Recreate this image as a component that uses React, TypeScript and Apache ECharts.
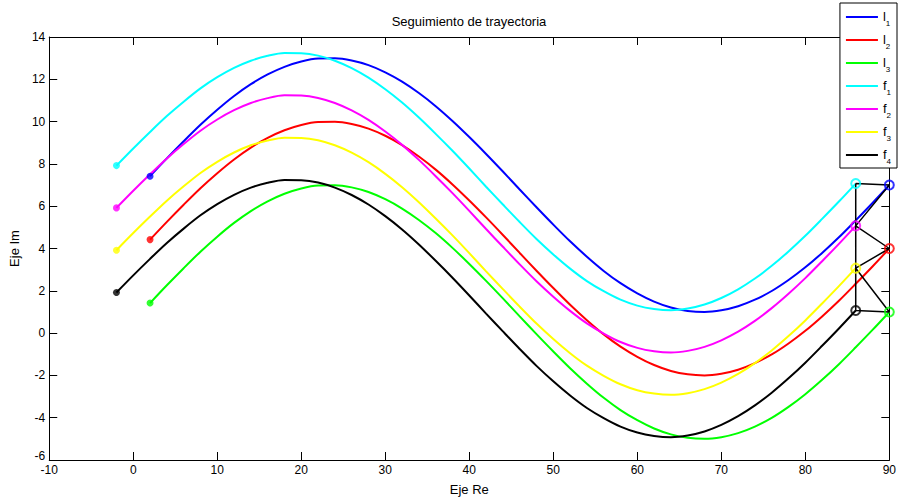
import React, { useEffect, useRef } from "react";
import * as echarts from "echarts";

// x positions of the sampled points
const xLeaders = [2, 4, 6, 8, 10, 12, 14, 16, 18, 20, 22, 24, 26, 28, 30, 32, 34, 36, 38, 40, 42, 44, 46, 48, 50, 52, 54, 56, 58, 60, 62, 64, 66, 68, 70, 72, 74, 76, 78, 80, 82, 84, 86, 88, 90];
const xFollowers = [-2, 0, 2, 4, 6, 8, 10, 12, 14, 16, 18, 20, 22, 24, 26, 28, 30, 32, 34, 36, 38, 40, 42, 44, 46, 48, 50, 52, 54, 56, 58, 60, 62, 64, 66, 68, 70, 72, 74, 76, 78, 80, 82, 84, 86];

// leaders
const l1 = [7.42, 8.26, 9.07, 9.85, 10.56, 11.21, 11.77, 12.23, 12.59, 12.84, 12.98, 12.99, 12.89, 12.67, 12.33, 11.89, 11.35, 10.73, 10.03, 9.27, 8.47, 7.64, 6.79, 5.95, 5.13, 4.34, 3.61, 2.94, 2.36, 1.88, 1.49, 1.21, 1.05, 1.0, 1.08, 1.27, 1.58, 1.99, 2.51, 3.11, 3.79, 4.53, 5.33, 6.15, 7.0];
const l2 = [4.42, 5.26, 6.07, 6.85, 7.56, 8.21, 8.77, 9.23, 9.59, 9.84, 9.98, 9.99, 9.89, 9.67, 9.33, 8.89, 8.35, 7.73, 7.03, 6.27, 5.47, 4.64, 3.79, 2.95, 2.13, 1.34, 0.61, -0.06, -0.64, -1.12, -1.51, -1.79, -1.95, -2.0, -1.92, -1.73, -1.42, -1.01, -0.49, 0.11, 0.79, 1.53, 2.33, 3.15, 4.0];
const l3 = [1.42, 2.26, 3.07, 3.85, 4.56, 5.21, 5.77, 6.23, 6.59, 6.84, 6.98, 6.99, 6.89, 6.67, 6.33, 5.89, 5.35, 4.73, 4.03, 3.27, 2.47, 1.64, 0.79, -0.05, -0.87, -1.66, -2.39, -3.06, -3.64, -4.12, -4.51, -4.79, -4.95, -5.0, -4.92, -4.73, -4.42, -4.01, -3.49, -2.89, -2.21, -1.47, -0.67, 0.15, 1.0];

// followers
const f1 = [7.92, 8.73, 9.51, 10.26, 10.94, 11.57, 12.1, 12.54, 12.88, 13.11, 13.24, 13.23, 13.12, 12.88, 12.53, 12.08, 11.53, 10.9, 10.19, 9.42, 8.62, 7.78, 6.92, 6.08, 5.25, 4.45, 3.72, 3.05, 2.46, 1.98, 1.58, 1.3, 1.14, 1.08, 1.16, 1.35, 1.66, 2.07, 2.58, 3.18, 3.86, 4.6, 5.4, 6.22, 7.07];
const f2 = [5.92, 6.73, 7.51, 8.26, 8.94, 9.57, 10.1, 10.54, 10.88, 11.11, 11.24, 11.23, 11.12, 10.88, 10.53, 10.08, 9.53, 8.9, 8.19, 7.42, 6.62, 5.78, 4.92, 4.08, 3.25, 2.45, 1.72, 1.05, 0.46, -0.02, -0.42, -0.7, -0.86, -0.92, -0.84, -0.65, -0.34, 0.07, 0.58, 1.18, 1.86, 2.6, 3.4, 4.22, 5.07];
const f3 = [3.92, 4.73, 5.51, 6.26, 6.94, 7.57, 8.1, 8.54, 8.88, 9.11, 9.24, 9.23, 9.12, 8.88, 8.53, 8.08, 7.53, 6.9, 6.19, 5.42, 4.62, 3.78, 2.92, 2.08, 1.25, 0.45, -0.28, -0.95, -1.54, -2.02, -2.42, -2.7, -2.86, -2.92, -2.84, -2.65, -2.34, -1.93, -1.42, -0.82, -0.14, 0.6, 1.4, 2.22, 3.07];
const f4 = [1.92, 2.73, 3.51, 4.26, 4.94, 5.57, 6.1, 6.54, 6.88, 7.11, 7.24, 7.23, 7.12, 6.88, 6.53, 6.08, 5.53, 4.9, 4.19, 3.42, 2.62, 1.78, 0.92, 0.08, -0.75, -1.55, -2.28, -2.95, -3.54, -4.02, -4.42, -4.7, -4.86, -4.92, -4.84, -4.65, -4.34, -3.93, -3.42, -2.82, -2.14, -1.4, -0.6, 0.22, 1.07];

const seriesNames = ["l1", "l2", "l3", "f1", "f2", "f3", "f4"];
const seriesColors = ["#0000ff", "#ff0000", "#00ff00", "#00ffff", "#ff00ff", "#ffff00", "#000000"];
const seriesValues = [l1, l2, l3, f1, f2, f3, f4];
const seriesX = [xLeaders, xLeaders, xLeaders, xFollowers, xFollowers, xFollowers, xFollowers];

// formation link order (indices into series): f1 -> l1 -> f2 -> l2 -> f3 -> l3 -> f4 -> f1
const formationOrder = [3, 0, 4, 1, 5, 2, 6, 3];

const xTicks = { min: -10, max: 90, interval: 10 };
const yTicks = { min: -6, max: 14, interval: 2 };

const FONT = "'Liberation Sans', Arial, Helvetica, sans-serif";

export default function App() {
  const ref = useRef<HTMLDivElement>(null);

  useEffect(() => {
    if (!ref.current) return;
    const chart = echarts.init(ref.current, undefined, { renderer: "svg" });

    const pair = (i: number) => seriesValues[i].map((v, k) => [seriesX[i][k], v]);
    const last = (i: number) => {
      const n = seriesValues[i].length - 1;
      return [seriesX[i][n], seriesValues[i][n]];
    };
    const first = (i: number) => [seriesX[i][0], seriesValues[i][0]];

    const lineSeries = seriesNames.map((name, i) => ({
      name,
      type: "line",
      data: pair(i),
      smooth: 0.3,
      showSymbol: false,
      symbol: "none",
      lineStyle: { color: seriesColors[i], width: 2 },
      itemStyle: { color: seriesColors[i] },
      z: 2,
    }));

    const axisCommon = {
      type: "value",
      splitLine: { show: false },
      axisLine: { show: true, onZero: false, lineStyle: { color: "#000", width: 1 } },
      axisTick: { show: true, inside: true, length: 8, lineStyle: { color: "#000", width: 1 } },
    };

    chart.setOption({
      animation: false,
      backgroundColor: "#fff",
      textStyle: { fontFamily: FONT },
      title: {
        text: "Seguimiento de trayectoria",
        left: 469,
        top: 15,
        padding: 0,
        textAlign: "center",
        textStyle: { fontFamily: FONT, fontSize: 13, fontWeight: "normal", color: "#000" },
      },
      grid: { left: 45, right: 6, top: 37, bottom: 38, containLabel: false },
      legend: {
        data: seriesNames,
        orient: "vertical",
        right: 2,
        top: 3,
        padding: [4, 6, 3, 6],
        itemGap: 3,
        itemWidth: 32,
        itemHeight: 2,
        icon: "rect",
        backgroundColor: "#fff",
        borderColor: "#000",
        borderWidth: 1,
        borderRadius: 0,
        selectedMode: false,
        formatter: (name: string) => `{m|${name.charAt(0)}}{s|${name.slice(1)}}`,
        textStyle: {
          fontFamily: FONT,
          color: "#000",
          rich: {
            m: { fontFamily: FONT, fontSize: 13, lineHeight: 14, verticalAlign: "top", color: "#000" },
            s: { fontFamily: FONT, fontSize: 8, lineHeight: 8, padding: [12, 0, 0, 0], color: "#000" },
          },
        },
      },
      xAxis: [
        {
          ...axisCommon,
          position: "bottom",
          min: xTicks.min,
          max: xTicks.max,
          interval: xTicks.interval,
          name: "Eje Re",
          nameLocation: "middle",
          nameGap: 23,
          nameTextStyle: { fontFamily: FONT, fontSize: 13, color: "#000" },
          axisLabel: { fontFamily: FONT, fontSize: 12, color: "#000", margin: 4 },
        },
        {
          ...axisCommon,
          position: "top",
          min: xTicks.min,
          max: xTicks.max,
          interval: xTicks.interval,
          axisLabel: { show: false },
        },
      ],
      yAxis: [
        {
          ...axisCommon,
          position: "left",
          min: yTicks.min,
          max: yTicks.max,
          interval: yTicks.interval,
          name: "Eje Im",
          nameLocation: "middle",
          nameGap: 24,
          nameTextStyle: { fontFamily: FONT, fontSize: 13, color: "#000" },
          axisLabel: {
            fontFamily: FONT,
            fontSize: 12,
            color: "#000",
            margin: 4,
            formatter: (v: number) => (v === yTicks.min ? `{low|${v}}` : `${v}`),
            rich: {
              low: { fontFamily: FONT, fontSize: 12, color: "#000", padding: [0, 0, 8, 0] },
            },
          },
        },
        {
          ...axisCommon,
          position: "right",
          min: yTicks.min,
          max: yTicks.max,
          interval: yTicks.interval,
          axisLabel: { show: false },
        },
      ],
      series: [
        ...lineSeries,
        {
          name: "formación",
          type: "line",
          data: formationOrder.map((i) => last(i)),
          smooth: false,
          showSymbol: false,
          symbol: "none",
          lineStyle: { color: "#000", width: 1.5 },
          clip: false,
          z: 3,
        },
        {
          name: "inicio",
          type: "scatter",
          symbol: "circle",
          symbolSize: 7,
          clip: false,
          data: seriesNames.map((_, i) => ({ value: first(i), itemStyle: { color: seriesColors[i] } })),
          z: 4,
        },
        {
          name: "final",
          type: "scatter",
          symbol: "circle",
          symbolSize: 9,
          clip: false,
          data: seriesNames.map((_, i) => ({
            value: last(i),
            itemStyle: { color: "rgba(255,255,255,0)", borderColor: seriesColors[i], borderWidth: 2 },
          })),
          z: 4,
        },
      ],
    });

    return () => chart.dispose();
  }, []);

  return <div ref={ref} style={{ width: 899, height: 501, position: "absolute", left: 0, top: 0 }} />;
}
